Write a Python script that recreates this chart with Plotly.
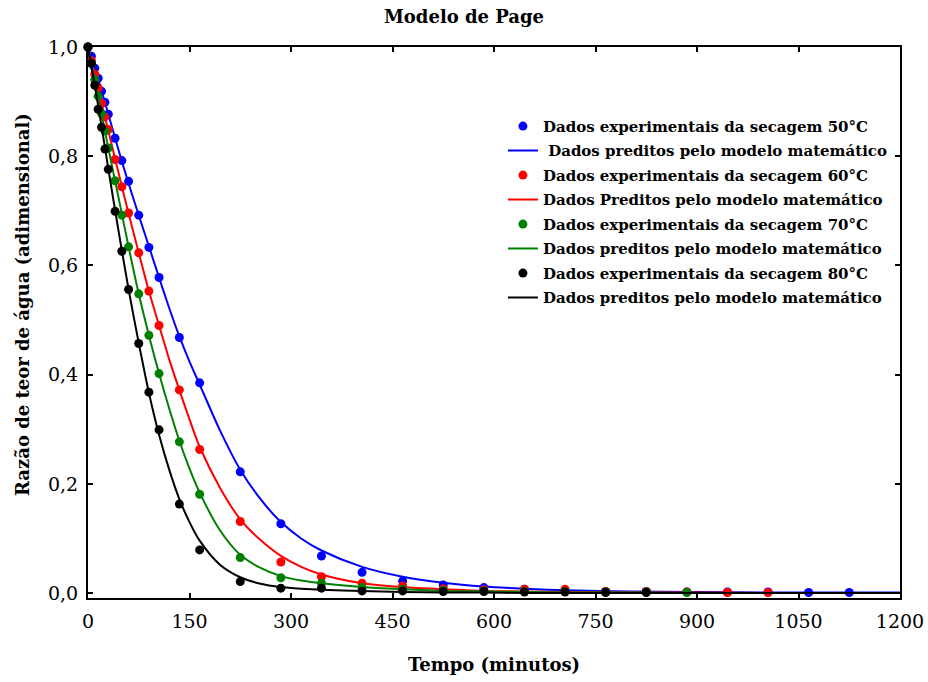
import plotly.graph_objects as go

# ---------------- data ----------------
t_exp = [0, 5, 10, 15, 20, 25, 30, 40, 50, 60, 75, 90, 105, 135, 165, 225, 285, 345,
         405, 465, 525, 585, 645, 705, 765, 825, 885, 945, 1005, 1065, 1125]

exp_50 = [1.0, 0.983, 0.961, 0.943, 0.919, 0.899, 0.877, 0.833, 0.792, 0.754, 0.692, 0.633,
          0.578, 0.468, 0.385, 0.222, 0.127, 0.068, 0.038, 0.022, 0.015, 0.010, 0.007, 0.005,
          0.003, 0.003, 0.002, 0.002, 0.002, 0.001, 0.001]
exp_60 = [1.0, 0.975, 0.95, 0.925, 0.897, 0.872, 0.849, 0.794, 0.744, 0.696, 0.623, 0.553,
          0.49, 0.372, 0.263, 0.131, 0.057, 0.030, 0.018, 0.013, 0.008, 0.006, 0.007, 0.007,
          0.003, 0.003, 0.002, 0.001, 0.001]
exp_70 = [1.0, 0.97, 0.94, 0.91, 0.878, 0.846, 0.815, 0.755, 0.692, 0.634, 0.548, 0.472,
          0.402, 0.277, 0.181, 0.065, 0.028, 0.018, 0.010, 0.007, 0.005, 0.004, 0.003, 0.003,
          0.002, 0.002, 0.001]
exp_80 = [1.0, 0.97, 0.93, 0.886, 0.853, 0.813, 0.776, 0.699, 0.626, 0.556, 0.457, 0.368,
          0.299, 0.163, 0.079, 0.021, 0.009, 0.009, 0.004, 0.004, 0.003, 0.003, 0.002, 0.002,
          0.001, 0.001]

t_mod = [0, 10, 20, 30, 45, 60, 75, 90, 105, 120, 135, 150, 165, 195, 225, 255, 285, 315,
         345, 405, 465, 525, 585, 645, 705, 800, 900, 1000, 1100, 1200]

mod_50 = [1.0, 0.965, 0.92, 0.877, 0.812, 0.75, 0.692, 0.635, 0.578, 0.522, 0.47, 0.424,
          0.382, 0.298, 0.226, 0.172, 0.13, 0.10, 0.078, 0.048, 0.03, 0.019, 0.012, 0.008,
          0.005, 0.003, 0.002, 0.001, 0.001, 0.001]
mod_60 = [1.0, 0.95, 0.897, 0.847, 0.77, 0.695, 0.623, 0.553, 0.49, 0.428, 0.372, 0.318,
          0.268, 0.193, 0.135, 0.097, 0.068, 0.048, 0.034, 0.018, 0.011, 0.007, 0.004, 0.003,
          0.002, 0.001, 0.001, 0.0, 0.0, 0.0]
mod_70 = [1.0, 0.94, 0.878, 0.815, 0.725, 0.634, 0.548, 0.472, 0.402, 0.338, 0.279, 0.228,
          0.184, 0.115, 0.07, 0.046, 0.031, 0.023, 0.018, 0.011, 0.007, 0.004, 0.003, 0.002,
          0.001, 0.001, 0.0, 0.0, 0.0, 0.0]
mod_80 = [1.0, 0.93, 0.855, 0.777, 0.664, 0.556, 0.458, 0.367, 0.29, 0.226, 0.172, 0.13,
          0.096, 0.052, 0.029, 0.017, 0.011, 0.008, 0.006, 0.004, 0.002, 0.001, 0.001, 0.0,
          0.0, 0.0, 0.0, 0.0, 0.0, 0.0]

exp_names = ["Dados experimentais da secagem 50°C", "Dados experimentais da secagem 60°C",
             "Dados experimentais da secagem 70°C", "Dados experimentais da secagem 80°C"]
mod_names = [" Dados preditos pelo modelo matemático", "Dados Preditos pelo modelo matemático",
             "Dados preditos pelo modelo matemático", "Dados preditos pelo modelo matemático"]

x_ticks = [0, 150, 300, 450, 600, 750, 900, 1050, 1200]
y_ticks = [0.0, 0.2, 0.4, 0.6, 0.8, 1.0]
y_ticktext = ["0,0", "0,2", "0,4", "0,6", "0,8", "1,0"]

title_text = "Modelo de Page"
x_title = "Tempo (minutos)"
y_title = "Razão de teor de água (adimensional)"

colors = ["#0000FF", "#FF0000", "#008000", "#000000"]
# ---------------------------------------

FONT = "DejaVu Serif"
exps = [exp_50, exp_60, exp_70, exp_80]
mods = [mod_50, mod_60, mod_70, mod_80]

fig = go.Figure()
for i in range(4):
    fig.add_trace(go.Scatter(
        x=t_exp[:len(exps[i])], y=exps[i], mode="markers", name=exp_names[i],
        marker=dict(color=colors[i], size=9), cliponaxis=False,
        legendgroup="e%d" % i))
    fig.add_trace(go.Scatter(
        x=t_mod, y=mods[i], mode="lines", name=mod_names[i],
        line=dict(color=colors[i], width=2, shape="spline", smoothing=0.8),
        legendgroup="m%d" % i))

axis_common = dict(showline=True, linewidth=2, linecolor="black", mirror="ticks",
                   ticks="inside", ticklen=5, tickwidth=1.5, tickcolor="black",
                   showgrid=False, zeroline=False, automargin=False,
                   tickfont=dict(family=FONT, size=19, color="black"))

fig.update_layout(
    width=928, height=682,
    margin=dict(l=88, r=28, t=47, b=84),
    paper_bgcolor="white", plot_bgcolor="white",
    title=dict(text=title_text, x=0.5, xanchor="center",
               y=1 - 17 / 682, yanchor="middle",
               font=dict(family=FONT, size=18, color="black", weight="bold")),
    xaxis=dict(range=[0, 1200], tickvals=x_ticks, ticklabelstandoff=5,
               title=dict(text=x_title, standoff=28,
                          font=dict(family=FONT, size=18, color="black", weight="bold")),
               **axis_common),
    yaxis=dict(range=[-0.009, 1.0], tickvals=y_ticks, ticktext=y_ticktext,
               ticklabelstandoff=4, **axis_common),
    legend=dict(x=0.511, y=0.886, xanchor="left", yanchor="top",
                bgcolor="rgba(0,0,0,0)", tracegroupgap=2,
                font=dict(family=FONT, size=15, color="black", weight="bold")),
    showlegend=True,
    annotations=[dict(text=y_title, xref="paper", yref="paper",
                      x=(22 - 88) / 812, y=(598 - 305) / 551, textangle=-90,
                      showarrow=False, xanchor="center", yanchor="middle",
                      font=dict(family=FONT, size=18, color="black", weight="bold"))],
)

fig.write_html("out.html", config={"displayModeBar": False},
               post_script="document.body.style.margin='0px';document.body.style.overflow='hidden';")
